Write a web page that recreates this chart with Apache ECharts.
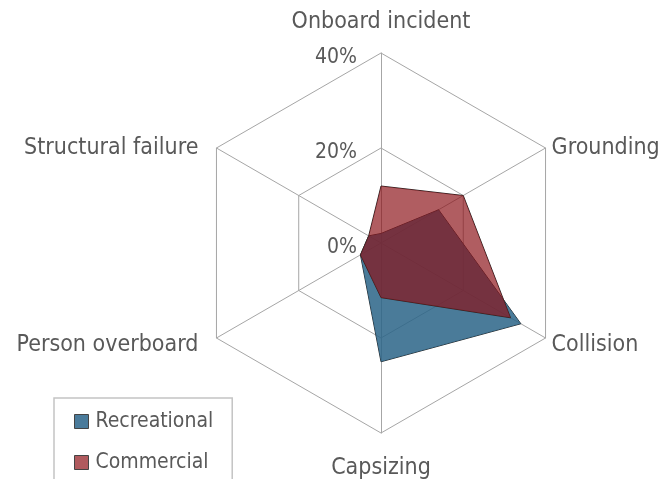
<!DOCTYPE html>
<html><head><meta charset="utf-8">
<script src="https://cdn.jsdelivr.net/npm/echarts@6/dist/echarts.min.js"></script>
<style>html,body{margin:0;padding:0;background:#fff}#c{width:664px;height:479px}</style>
</head><body><div id="c"></div>
<script>
// ECharts radar lays indicators counter-clockwise from the top
const categories = ['Onboard incident', 'Structural failure', 'Person overboard', 'Capsizing', 'Collision', 'Grounding'];
const recreational = [2, 3, 5, 25, 34, 14];
const commercial = [12, 3, 5, 11.5, 31.5, 20];
const axisMax = 40;
const seriesNames = ['Recreational', 'Commercial'];

const FONT = '"DejaVu Sans Condensed", "DejaVu Sans"';
const TXT = '#595959';
const nameGaps = [19, 7, 7, 24, 7, 7];
const namePads = [0, [0, 12, 0, 0], [0, 12, 0, 0], 0, 0, 0];
const sideName = [false, true, true, false, true, true];

const indicator = categories.map((name, i) => {
  const o = { name: name, max: axisMax, min: 0, nameGap: nameGaps[i], nameTextStyle: { padding: namePads[i] } };
  if (i === 0) o.axisLabel = { show: true };
  return o;
});

const chart = echarts.init(document.getElementById('c'), null, { renderer: 'canvas' });
chart.setOption({
  animation: false,
  backgroundColor: '#fff',
  textStyle: { fontFamily: FONT },
  legend: {
    data: seriesNames,
    orient: 'vertical',
    left: 54, top: 398,
    height: 300,
    padding: [13, 19, 30, 20],
    borderColor: '#c4c4c4', borderWidth: 1.5,
    itemWidth: 14, itemHeight: 14, itemGap: 20,
    icon: 'rect',
    itemStyle: { borderColor: '#444', borderWidth: 1 },
    textStyle: { fontFamily: FONT, fontSize: 21, color: TXT, padding: [0, 0, 0, 2] }
  },
  radar: {
    center: [381, 243],
    radius: 190,
    shape: 'polygon',
    splitNumber: 2,
    startAngle: 90,
    indicator: indicator,
    axisName: {
      color: TXT, fontFamily: FONT, fontSize: 23,
      formatter: function (name) {
        const i = categories.indexOf(name);
        return sideName[i] ? '{s| }\n{n|' + name + '}' : '{n|' + name + '}';
      },
      rich: {
        s: { fontSize: 2, lineHeight: 8 },
        n: { fontSize: 23, color: TXT, fontFamily: FONT }
      }
    },
    axisLine: { lineStyle: { color: '#a6a6a6', width: 1 } },
    splitLine: { lineStyle: { color: '#a6a6a6', width: 1 } },
    splitArea: { show: false },
    axisTick: { show: false },
    axisLabel: { show: false, formatter: v => '\n' + v + '%', color: TXT, fontFamily: FONT, fontSize: 21, lineHeight: 10, margin: 24 }
  },
  series: [{
    type: 'radar',
    symbol: 'none',
    data: [
      {
        name: seriesNames[0], value: recreational,
        itemStyle: { color: '#4a7b9b' },
        lineStyle: { color: '#2a2a2a', width: 1 },
        areaStyle: { color: 'rgb(42,100,135)', opacity: 0.85 }
      },
      {
        name: seriesNames[1], value: commercial,
        itemStyle: { color: '#b05a5e' },
        lineStyle: { color: '#2a2a2a', width: 1 },
        areaStyle: { color: 'rgb(139,16,22)', opacity: 0.68 }
      }
    ]
  }]
});
</script></body></html>
